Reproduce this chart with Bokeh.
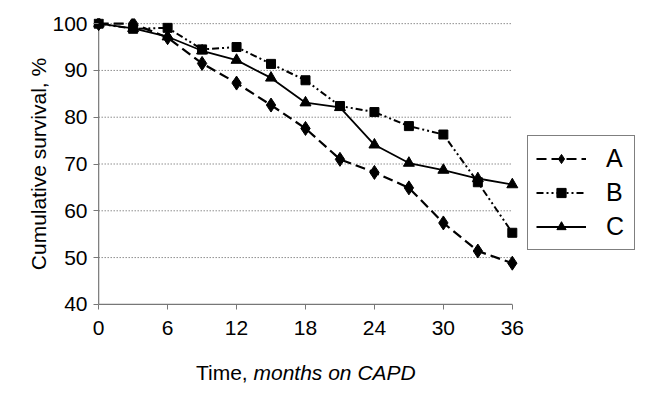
from bokeh.plotting import figure
from bokeh.models import Range1d, FixedTicker, Legend, LegendItem
from bokeh.layouts import column
from bokeh.core.properties import value
from bokeh.embed import file_html
from bokeh.resources import INLINE

months = [0, 3, 6, 9, 12, 15, 18, 21, 24, 27, 30, 33, 36]
series_a = [100, 100, 97.0, 91.5, 87.3, 82.6, 77.6, 71.0, 68.2, 64.9, 57.4, 51.4, 48.8]
series_b = [100, 98.9, 99.1, 94.5, 95.0, 91.4, 87.9, 82.4, 81.1, 78.1, 76.3, 66.1, 55.3]
series_c = [100, 99.0, 97.2, 94.2, 92.2, 88.4, 83.1, 82.1, 74.1, 70.2, 68.7, 66.9, 65.6]
x_ticks = [0, 6, 12, 18, 24, 30, 36]
y_ticks = [40, 50, 60, 70, 80, 90, 100]
labels = ["A", "B", "C"]
x_title_plain = "Time,"
x_title_italic = "months on CAPD"
y_title = "Cumulative survival, %"

FONT = "Liberation Sans"
FS = "21px"
W = 652
H_MAIN = 346
H_TITLE = 50
LEFT, TOP, BOTTOM = 93, 18, 37
PX_PER_MONTH = 11.49
xpad, ypad = 0.45, 1.1

x0 = x_ticks[0] - xpad
x1 = x0 + (W - LEFT) / PX_PER_MONTH
p = figure(width=W, height=H_MAIN,
           x_range=Range1d(x0, x1),
           y_range=Range1d(y_ticks[0] - ypad, y_ticks[-1] + ypad),
           output_backend="svg", toolbar_location=None,
           min_border_left=LEFT, min_border_right=0,
           min_border_top=TOP, min_border_bottom=BOTTOM)
p.outline_line_color = None
p.xgrid.visible = False
p.ygrid.visible = False

# dotted gridlines from tick values
gy = y_ticks[1:]
p.segment(x0=[x_ticks[0]] * len(gy), x1=[x_ticks[-1]] * len(gy), y0=gy, y1=gy,
          line_color="#555555", line_width=1, line_dash="1 2")
# axis lines
p.segment(x0=[x_ticks[0], x_ticks[0]], y0=[y_ticks[0], y_ticks[0]],
          x1=[x_ticks[-1], x_ticks[0]], y1=[y_ticks[0], y_ticks[-1]],
          line_color="#777777", line_width=1.2)

for ax in (p.xaxis[0], p.yaxis[0]):
    ax.axis_line_color = None
    ax.major_tick_out = 0
    ax.major_tick_in = 5
    ax.major_tick_line_color = "#777777"
    ax.minor_tick_line_color = None
    ax.major_label_text_font = FONT
    ax.major_label_text_font_size = FS
    ax.major_label_text_color = "black"

p.xaxis.ticker = FixedTicker(ticks=x_ticks)
p.yaxis.ticker = FixedTicker(ticks=y_ticks)
p.xaxis.major_label_standoff = 11
p.yaxis.major_label_standoff = 6
p.yaxis.axis_label = y_title
p.yaxis.axis_label_text_font = FONT
p.yaxis.axis_label_text_font_size = FS
p.yaxis.axis_label_text_font_style = "normal"
p.yaxis.axis_label_text_color = "black"
p.yaxis.axis_label_standoff = -1

# lines + markers
la = p.line(months, series_a, line_color="black", line_width=2.2, line_dash="10 5")
sa = p.scatter(months, series_a, marker="diamond", size=14, color="black")
lb = p.line(months, series_b, line_color="black", line_width=2, line_dash="7 3 2 3 2 3")
sb = p.scatter(months, series_b, marker="square", size=9, color="black")
lc = p.line(months, series_c, line_color="black", line_width=1.8)
sc = p.scatter(months, series_c, marker="triangle", size=11, color="black")

legend = Legend(items=[LegendItem(label=labels[0], renderers=[la, sa]),
                       LegendItem(label=labels[1], renderers=[lb, sb]),
                       LegendItem(label=labels[2], renderers=[lc, sc])],
                location=(434, 59), orientation="vertical")
legend.label_text_font = FONT
legend.label_text_font_size = "25px"
legend.label_text_color = "black"
legend.glyph_width = 50
legend.glyph_height = 23
legend.label_height = 23
legend.spacing = 5
legend.padding = 8
legend.margin = 0
legend.label_standoff = 20
legend.border_line_color = "black"
legend.border_line_width = 1
legend.background_fill_alpha = 1
p.add_layout(legend)

# x-axis title as a strip below, same horizontal scale as the main plot
t = figure(width=W, height=H_TITLE, x_range=Range1d(x0, x1), y_range=Range1d(0, H_TITLE),
           output_backend="svg", toolbar_location=None,
           x_axis_type=None, y_axis_type=None,
           min_border_left=LEFT, min_border_right=0, min_border_top=0, min_border_bottom=0)
t.outline_line_color = None
t.xgrid.visible = False
t.ygrid.visible = False
mid = (x_ticks[0] + x_ticks[-1]) / 2
ty = H_TITLE - 26
t.text(x=[mid - 57.8 / PX_PER_MONTH], y=[ty], text=[x_title_plain], text_align="right",
       text_baseline="middle", text_font=value(FONT), text_font_size=FS, text_color="black")
t.text(x=[mid - 52.0 / PX_PER_MONTH], y=[ty], text=[x_title_italic], text_align="left",
       text_baseline="middle", text_font=value(FONT), text_font_size=FS,
       text_font_style="italic", text_color="black")

layout = column(p, t, spacing=0)
open("out.html", "w").write(file_html(layout, INLINE))
